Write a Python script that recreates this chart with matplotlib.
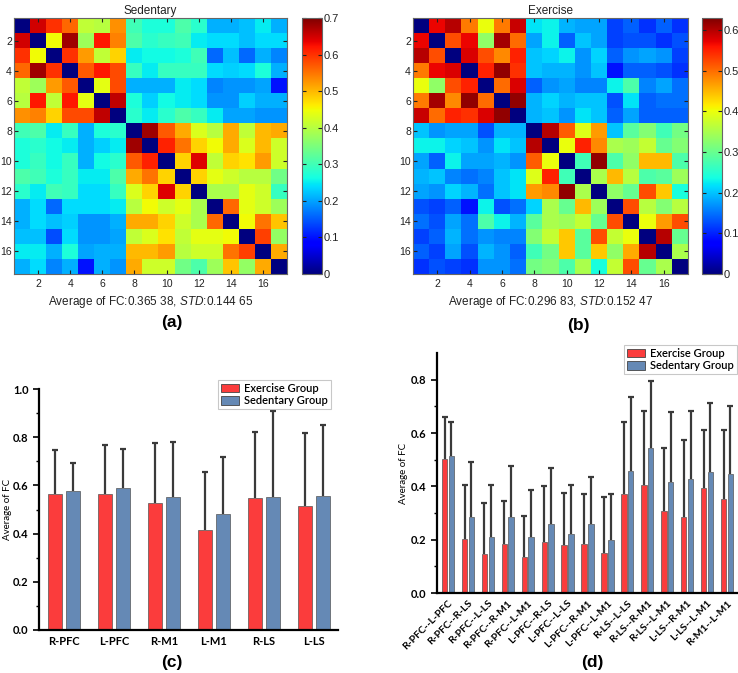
import numpy as np
import matplotlib
matplotlib.use("Agg")
import matplotlib.pyplot as plt
from matplotlib.patches import Patch

plt.rcParams['font.family'] = ['Liberation Sans', 'DejaVu Sans']
plt.rcParams['mathtext.fontset'] = 'custom'
plt.rcParams['mathtext.it'] = 'Liberation Sans:italic'
plt.rcParams['mathtext.rm'] = 'Liberation Sans'

# ---------------- data ----------------
sedentary_fc = [
    [0.00, 0.65, 0.60, 0.56, 0.41, 0.40, 0.53, 0.30, 0.27, 0.27, 0.31, 0.28, 0.21, 0.21, 0.22, 0.25, 0.21],
    [0.65, 0.00, 0.45, 0.68, 0.38, 0.62, 0.54, 0.31, 0.28, 0.29, 0.30, 0.25, 0.24, 0.24, 0.22, 0.24, 0.24],
    [0.60, 0.45, 0.00, 0.60, 0.52, 0.41, 0.48, 0.25, 0.26, 0.26, 0.27, 0.30, 0.16, 0.22, 0.16, 0.21, 0.18],
    [0.56, 0.68, 0.60, 0.00, 0.57, 0.62, 0.58, 0.29, 0.25, 0.29, 0.29, 0.29, 0.24, 0.23, 0.24, 0.27, 0.21],
    [0.41, 0.38, 0.52, 0.57, 0.00, 0.44, 0.58, 0.21, 0.21, 0.21, 0.25, 0.24, 0.18, 0.19, 0.19, 0.20, 0.10],
    [0.40, 0.62, 0.41, 0.62, 0.44, 0.00, 0.66, 0.27, 0.23, 0.26, 0.25, 0.24, 0.19, 0.19, 0.23, 0.21, 0.21],
    [0.53, 0.54, 0.48, 0.58, 0.58, 0.66, 0.00, 0.28, 0.25, 0.28, 0.31, 0.29, 0.25, 0.20, 0.20, 0.19, 0.19],
    [0.30, 0.31, 0.25, 0.29, 0.21, 0.27, 0.28, 0.00, 0.68, 0.57, 0.51, 0.43, 0.40, 0.51, 0.41, 0.50, 0.51],
    [0.27, 0.28, 0.26, 0.25, 0.21, 0.23, 0.25, 0.68, 0.00, 0.61, 0.55, 0.48, 0.45, 0.51, 0.43, 0.50, 0.42],
    [0.27, 0.29, 0.26, 0.29, 0.21, 0.26, 0.28, 0.57, 0.61, 0.00, 0.48, 0.64, 0.41, 0.48, 0.47, 0.52, 0.42],
    [0.31, 0.30, 0.27, 0.29, 0.25, 0.25, 0.31, 0.51, 0.55, 0.48, 0.00, 0.48, 0.44, 0.42, 0.40, 0.40, 0.34],
    [0.28, 0.25, 0.30, 0.29, 0.24, 0.24, 0.29, 0.43, 0.48, 0.64, 0.48, 0.00, 0.39, 0.39, 0.44, 0.42, 0.29],
    [0.21, 0.24, 0.16, 0.24, 0.24, 0.24, 0.25, 0.40, 0.45, 0.42, 0.44, 0.39, 0.00, 0.56, 0.44, 0.42, 0.38],
    [0.21, 0.24, 0.22, 0.23, 0.19, 0.19, 0.21, 0.51, 0.51, 0.48, 0.42, 0.39, 0.56, 0.00, 0.45, 0.55, 0.49],
    [0.22, 0.22, 0.14, 0.24, 0.19, 0.19, 0.20, 0.41, 0.43, 0.47, 0.41, 0.44, 0.44, 0.45, 0.00, 0.59, 0.37],
    [0.25, 0.25, 0.21, 0.27, 0.20, 0.21, 0.21, 0.50, 0.50, 0.52, 0.40, 0.42, 0.42, 0.55, 0.59, 0.00, 0.51],
    [0.21, 0.24, 0.18, 0.21, 0.10, 0.21, 0.19, 0.51, 0.42, 0.42, 0.34, 0.31, 0.38, 0.49, 0.37, 0.51, 0.00],
]

exercise_fc = [
    [0.00, 0.57, 0.60, 0.49, 0.40, 0.49, 0.59, 0.22, 0.23, 0.19, 0.18, 0.18, 0.12, 0.14, 0.11, 0.14, 0.11],
    [0.57, 0.00, 0.52, 0.57, 0.33, 0.61, 0.50, 0.18, 0.23, 0.14, 0.20, 0.18, 0.12, 0.13, 0.13, 0.11, 0.13],
    [0.60, 0.52, 0.00, 0.58, 0.52, 0.48, 0.55, 0.20, 0.21, 0.23, 0.17, 0.21, 0.14, 0.17, 0.18, 0.17, 0.12],
    [0.49, 0.57, 0.58, 0.00, 0.55, 0.62, 0.54, 0.20, 0.19, 0.19, 0.17, 0.20, 0.09, 0.14, 0.14, 0.13, 0.11],
    [0.40, 0.33, 0.52, 0.55, 0.00, 0.50, 0.58, 0.14, 0.17, 0.18, 0.16, 0.16, 0.23, 0.28, 0.16, 0.18, 0.15],
    [0.49, 0.61, 0.48, 0.62, 0.50, 0.00, 0.62, 0.19, 0.21, 0.19, 0.20, 0.20, 0.13, 0.22, 0.14, 0.15, 0.15],
    [0.59, 0.50, 0.55, 0.54, 0.58, 0.62, 0.00, 0.19, 0.20, 0.17, 0.22, 0.20, 0.14, 0.18, 0.14, 0.14, 0.14],
    [0.20, 0.17, 0.18, 0.18, 0.13, 0.19, 0.19, 0.00, 0.60, 0.51, 0.39, 0.47, 0.20, 0.29, 0.32, 0.27, 0.31],
    [0.23, 0.23, 0.21, 0.20, 0.17, 0.22, 0.20, 0.60, 0.00, 0.40, 0.55, 0.48, 0.35, 0.34, 0.37, 0.30, 0.32],
    [0.18, 0.14, 0.23, 0.18, 0.18, 0.19, 0.17, 0.51, 0.40, 0.00, 0.27, 0.62, 0.28, 0.33, 0.45, 0.45, 0.28],
    [0.19, 0.20, 0.16, 0.15, 0.16, 0.20, 0.22, 0.39, 0.55, 0.27, 0.00, 0.35, 0.45, 0.36, 0.28, 0.29, 0.34],
    [0.18, 0.17, 0.21, 0.19, 0.15, 0.20, 0.22, 0.47, 0.48, 0.62, 0.35, 0.00, 0.33, 0.30, 0.52, 0.44, 0.24],
    [0.13, 0.12, 0.14, 0.09, 0.23, 0.13, 0.15, 0.21, 0.35, 0.30, 0.45, 0.34, 0.00, 0.52, 0.36, 0.32, 0.36],
    [0.15, 0.13, 0.18, 0.15, 0.28, 0.23, 0.19, 0.29, 0.35, 0.34, 0.37, 0.30, 0.52, 0.00, 0.40, 0.47, 0.52],
    [0.12, 0.14, 0.19, 0.15, 0.17, 0.16, 0.16, 0.32, 0.37, 0.44, 0.29, 0.52, 0.37, 0.40, 0.00, 0.60, 0.30],
    [0.14, 0.12, 0.18, 0.13, 0.19, 0.17, 0.14, 0.27, 0.31, 0.44, 0.29, 0.44, 0.33, 0.46, 0.60, 0.00, 0.35],
    [0.11, 0.13, 0.12, 0.11, 0.17, 0.17, 0.15, 0.31, 0.32, 0.28, 0.35, 0.24, 0.37, 0.52, 0.30, 0.35, 0.00],
]

heat_ticks = [2, 4, 6, 8, 10, 12, 14, 16]
sed_cbar_ticks = [0, 0.1, 0.2, 0.3, 0.4, 0.5, 0.6, 0.7]
exe_cbar_ticks = [0, 0.1, 0.2, 0.3, 0.4, 0.5, 0.6]

regions = ["R-PFC", "L-PFC", "R-M1", "L-M1", "R-LS", "L-LS"]
c_exercise_mean = [0.563, 0.563, 0.525, 0.414, 0.549, 0.513]
c_exercise_top = [0.745, 0.768, 0.775, 0.655, 0.822, 0.818]
c_sedentary_mean = [0.575, 0.588, 0.550, 0.483, 0.550, 0.556]
c_sedentary_top = [0.693, 0.752, 0.780, 0.718, 0.910, 0.850]

pairs = ["R-PFC--L-PFC", "R-PFC--R-LS", "R-PFC--L-LS", "R-PFC--R-M1", "R-PFC--L-M1",
         "L-PFC--R-LS", "L-PFC--L-LS", "L-PFC--R-M1", "L-PFC--L-M1", "R-LS--L-LS",
         "R-LS--R-M1", "R-LS--L-M1", "L-LS--R-M1", "L-LS--L-M1", "R-M1--L-M1"]
d_exercise_mean = [0.504, 0.203, 0.145, 0.185, 0.136, 0.193, 0.181, 0.185, 0.151, 0.371,
                   0.405, 0.308, 0.285, 0.395, 0.354]
d_exercise_top = [0.661, 0.405, 0.336, 0.345, 0.289, 0.400, 0.374, 0.371, 0.359, 0.641,
                  0.681, 0.543, 0.573, 0.610, 0.613]
d_sedentary_mean = [0.515, 0.286, 0.211, 0.284, 0.211, 0.260, 0.223, 0.260, 0.200, 0.456,
                    0.544, 0.416, 0.429, 0.454, 0.448]
d_sedentary_top = [0.643, 0.490, 0.406, 0.476, 0.385, 0.469, 0.405, 0.435, 0.370, 0.734,
                   0.794, 0.679, 0.681, 0.713, 0.700]

RED = "#FB3C3C"
BLUE = "#6589B5"
ERR = "#3a3a3a"

W, H = 738, 673
fig = plt.figure(figsize=(W / 100, H / 100), dpi=100)


def box(x0, y0, x1, y1):
    return [x0 / W, 1 - y1 / H, (x1 - x0) / W, (y1 - y0) / H]


def heatmap(rect, cbrect, data, vmax, cticks, title, label):
    ax = fig.add_axes(rect)
    m = np.array(data)
    im = ax.imshow(m, cmap="jet", vmin=0, vmax=vmax, aspect="auto",
                   interpolation="nearest", extent=(0.5, 17.5, 17.5, 0.5))
    ax.set_xticks(heat_ticks)
    ax.set_yticks(heat_ticks)
    ax.tick_params(direction="in", length=3, labelsize=7.5, colors="#222222",
                   top=True, right=True)
    ax.tick_params(axis="y", pad=1.5)
    ax.set_title(title, fontsize=8.5, pad=3, color="#222222")
    ax.set_xlabel(label, fontsize=8.5, labelpad=4, color="#222222")
    for s in ax.spines.values():
        s.set_color("#666666")
        s.set_linewidth(0.8)
    cax = fig.add_axes(cbrect)
    cb = fig.colorbar(im, cax=cax, ticks=cticks)
    cb.ax.tick_params(direction="in", length=3, labelsize=8, left=True, right=True,
                      pad=1, colors="#222222")
    cb.ax.set_yticklabels([("%g" % t) for t in cticks])
    cb.outline.set_edgecolor("#666666")
    cb.outline.set_linewidth(0.8)


heatmap(box(14, 18, 287, 274), box(302, 18, 322, 274), sedentary_fc, 0.7,
        sed_cbar_ticks, "Sedentary",
        r"Average of FC:0.365 38, $\it{STD}$:0.144 65")
heatmap(box(413, 18, 688, 274), box(702, 18, 722, 274), exercise_fc, 0.63,
        exe_cbar_ticks, "Exercise",
        r"Average of FC:0.296 83, $\it{STD}$:0.152 47")


def barpanel(rect, cats, em, et, sm, st, width, off, xlim, ylim, yticks, rot,
             legend_anchor, ylabel_x):
    ax = fig.add_axes(rect)
    x = np.arange(len(cats))
    ax.bar(x - off, em, width, color=RED, edgecolor="#555555", linewidth=0.5,
           zorder=2, label="Exercise Group")
    ax.bar(x + off, sm, width, color=BLUE, edgecolor="#555555", linewidth=0.5,
           zorder=2, label="Sedentary Group")
    for xs, mean, top in ((x - off, em, et), (x + off, sm, st)):
        mean = np.array(mean)
        top = np.array(top)
        _, caps, _ = ax.errorbar(xs, mean, yerr=[np.zeros_like(mean), top - mean],
                                 fmt="none", ecolor=ERR, elinewidth=1.6,
                                 capsize=2.5, capthick=1.6, zorder=3)
        caps[0].set_visible(False)
    ax.set_xlim(*xlim)
    ax.set_ylim(*ylim)
    ax.set_yticks(yticks)
    ax.set_yticklabels(["%.1f" % v for v in yticks])
    ax.set_yticks(np.arange(0.1, ylim[1], 0.2), minor=True)
    ax.set_xticks(x)
    if rot:
        ax.set_xticklabels(cats, rotation=45, ha="right", rotation_mode="anchor",
                           fontsize=7.5, fontweight="bold", family="Lato")
    else:
        ax.set_xticklabels(cats, fontsize=8, fontweight="bold", family="Lato")
    for lab in ax.get_yticklabels():
        lab.set_fontweight("bold")
        lab.set_family("Lato")
        lab.set_fontsize(8)
    ax.tick_params(axis="y", which="major", length=4, width=1.2, direction="out")
    ax.tick_params(axis="y", which="minor", length=2, width=1.0, direction="out")
    ax.tick_params(axis="x", length=0, pad=4)
    for s in ("top", "right"):
        ax.spines[s].set_visible(False)
    for s in ("left", "bottom"):
        ax.spines[s].set_linewidth(1.6)
    ax.set_ylabel("Average of FC", fontsize=7, family="Lato")
    ax.yaxis.set_label_coords(ylabel_x, 0.5)
    handles = [Patch(facecolor=RED, edgecolor="#444444", linewidth=0.6),
               Patch(facecolor=BLUE, edgecolor="#444444", linewidth=0.6)]
    leg = ax.legend(handles, ["Exercise Group", "Sedentary Group"],
                    loc="upper right", bbox_to_anchor=legend_anchor,
                    bbox_transform=fig.transFigure, borderaxespad=0,
                    prop={"family": "Lato", "weight": "semibold", "size": 8},
                    frameon=True, fancybox=False, handlelength=1.6, handleheight=0.8,
                    handletextpad=0.5, borderpad=0.25, labelspacing=0.15)
    leg.get_frame().set_edgecolor("#bbbbbb")
    leg.get_frame().set_linewidth(0.8)
    return ax


barpanel(box(39, 389, 338, 630), regions, c_exercise_mean, c_exercise_top,
         c_sedentary_mean, c_sedentary_top, 0.28, 0.175, (-0.5, 5.48), (0, 1.0),
         [0.0, 0.2, 0.4, 0.6, 0.8, 1.0], False, (331 / W, 1 - 380 / H),
         (12 - 39) / 299)
barpanel(box(437, 353, 737, 593), pairs, d_exercise_mean, d_exercise_top,
         d_sedentary_mean, d_sedentary_top, 0.27, 0.17, (-0.55, 14.5), (0, 0.9),
         [0.0, 0.2, 0.4, 0.6, 0.8], True, (737 / W, 1 - 345 / H),
         (408 - 437) / 300)

for txt, px, py in (("(a)", 172, 322), ("(b)", 578, 325), ("(c)", 172, 663), ("(d)", 592, 663)):
    fig.text(px / W, 1 - py / H, txt, ha="center", va="center", fontsize=12.5,
             fontweight="bold")

fig.savefig("out.png", dpi=100)
